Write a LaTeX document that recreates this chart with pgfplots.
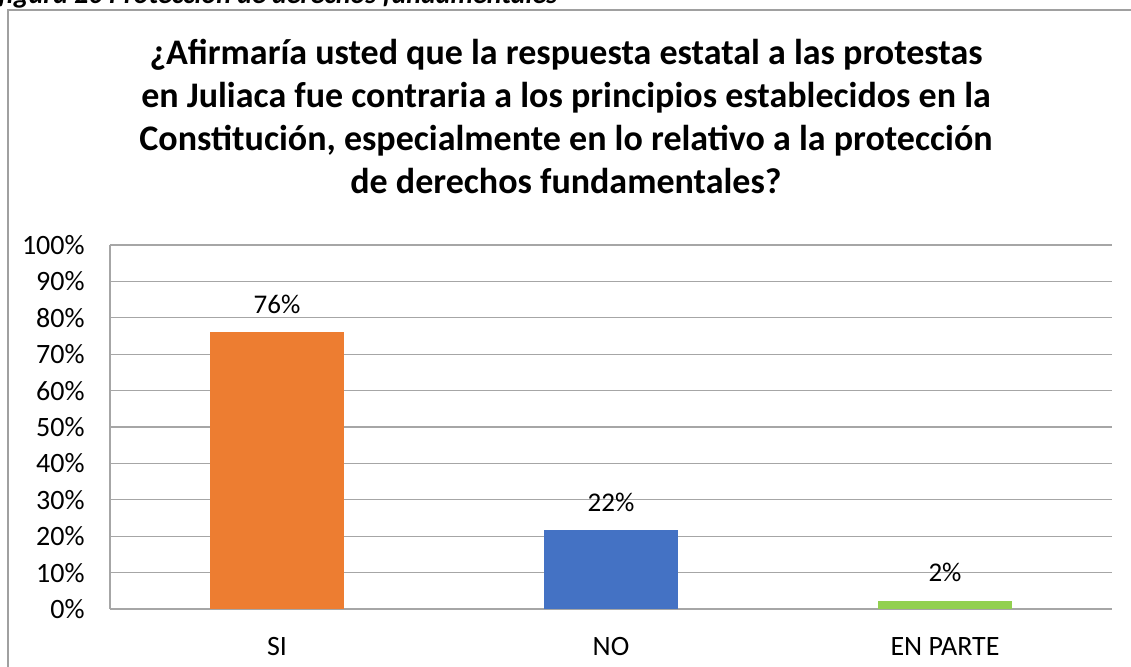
\documentclass[border=0pt]{standalone}
\usepackage{pgfplots}
\pgfplotsset{compat=1.18}
\usepackage{fontspec}
\setmainfont{Carlito}
\definecolor{cOrange}{HTML}{ED7D31}
\definecolor{cBlue}{HTML}{4472C4}
\definecolor{cGreen}{HTML}{92D050}
\definecolor{cGrid}{HTML}{A6A6A6}
\definecolor{cFrame}{HTML}{A0A0A0}
\begin{document}
\begin{tikzpicture}
% outer frame
\draw[cFrame,line width=0.6pt] (4pt,-10pt) -- (4pt,328.5pt) -- (575pt,328.5pt);
% partial caption at very top
\node[anchor=base west,inner sep=0pt,font=\fontsize{14pt}{16pt}\selectfont\bfseries\itshape] at (-1pt,331.5pt) {figura 20 Protección de derechos fundamentales};
% title
\foreach \t/\yy in {{¿Afirmaría usted que la respuesta estatal a las protestas}/301,
                    {en Juliaca fue contraria a los principios establecidos en la}/279.5,
                    {Constitución, especialmente en lo relativo a la protección}/258,
                    {de derechos fundamentales?}/236.5}{
  \node[anchor=base,inner sep=0pt,font=\fontsize{18pt}{21.5pt}\selectfont\bfseries] at (283pt,\yy pt) {\t};
}
\begin{axis}[
  at={(55pt,29pt)}, anchor=south west,
  scale only axis, width=501pt, height=182pt,
  ymin=0, ymax=100, ytick={0,10,...,100},
  yticklabel={\pgfmathprintnumber{\tick}\%},
  xmin=-0.5, xmax=2.5, xtick={0,1,2},
  xticklabels={SI,NO,EN PARTE},
  major tick length=0pt,
  ymajorgrids, grid style={cGrid,line width=0.6pt},
  axis line style={cGrid,line width=0.6pt},
  axis x line*=bottom, axis y line*=left,
  /pgf/number format/assume math mode=true,
  tick label style={font=\fontsize{14pt}{16pt}\selectfont, inner sep=0pt},
  yticklabel style={xshift=-12.5pt},
  xticklabel style={yshift=-14pt},
  ybar, bar width=67pt, bar shift=0pt,
  nodes near coords,
  point meta=explicit symbolic,
  nodes near coords style={font=\fontsize{13.5pt}{15pt}\selectfont, anchor=base, inner sep=0pt, yshift=9.5pt},
  clip=false,
]
\addplot[fill=cOrange, draw=none] coordinates {(0,76) [76\%]};
\addplot[fill=cBlue, draw=none] coordinates {(1,21.6) [22\%]};
\addplot[fill=cGreen, draw=none] coordinates {(2,2.2) [2\%]};
\end{axis}
\pgfresetboundingbox
\useasboundingbox (0,0) rectangle (565.5pt,333.5pt);
\end{tikzpicture}
\end{document}
